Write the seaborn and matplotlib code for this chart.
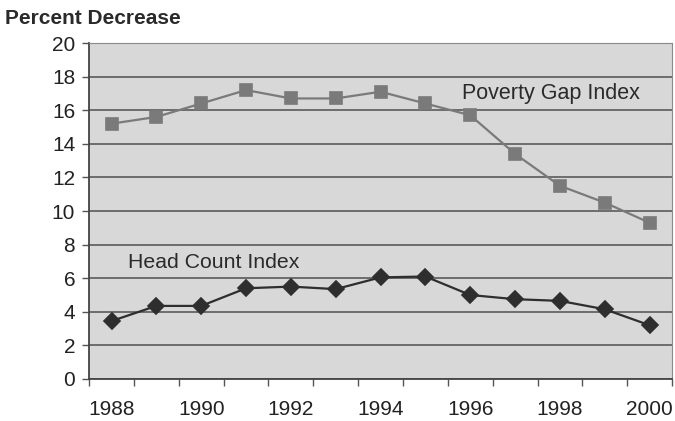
import pandas as pd
import seaborn as sns
import matplotlib.pyplot as plt
from matplotlib.ticker import FixedLocator

# Data
years = [1988, 1989, 1990, 1991, 1992, 1993, 1994, 1995, 1996, 1997, 1998, 1999, 2000]
poverty_gap = [15.2, 15.6, 16.4, 17.2, 16.7, 16.7, 17.1, 16.4, 15.7, 13.4, 11.5, 10.5, 9.3]
head_count = [3.45, 4.35, 4.35, 5.4, 5.5, 5.35, 6.05, 6.1, 5.0, 4.75, 4.65, 4.15, 3.2]
tick_years = ['1988', '1990', '1992', '1994', '1996', '1998', '2000']

df = pd.DataFrame({'Year': [str(y) for y in years],
                   'Poverty Gap Index': poverty_gap,
                   'Head Count Index': head_count})

sns.set_style('white')
plt.rcParams['font.family'] = ['Liberation Sans', 'DejaVu Sans']

fig = plt.figure(figsize=(6.75, 4.21), dpi=100)
ax = fig.add_axes([0.132, 0.0998, 0.8636, 0.798])
ax.set_facecolor('#d8d8d8')

sns.pointplot(data=df, x='Year', y='Poverty Gap Index', errorbar=None, ax=ax,
              color='#7a7a7a', markers='s', markersize=9, linewidth=1.6)
sns.pointplot(data=df, x='Year', y='Head Count Index', errorbar=None, ax=ax,
              color='#2e2e2e', markers='D', markersize=8, linewidth=1.6)

ax.set_xlim(-0.5, len(years) - 0.5)
ax.set_ylim(0, 20)
ax.set_yticks(range(0, 21, 2))
ax.yaxis.grid(True, color='#5a5a5a', linewidth=1.2)
ax.set_axisbelow(True)

ax.set_xticks([years.index(int(t)) for t in tick_years])
ax.set_xticklabels(tick_years)
ax.xaxis.set_minor_locator(FixedLocator([i - 0.5 for i in range(len(years) + 1)]))
ax.tick_params(axis='x', which='major', length=0, pad=15, labelsize=15, colors='#222222')
ax.tick_params(axis='x', which='minor', length=5, width=1, color='#555555', direction='out', bottom=True)
ax.tick_params(axis='y', length=5, width=1, color='#555555', direction='out', left=True,
               labelsize=15, labelcolor='#222222', pad=5)
ax.set_xlabel('')
ax.set_ylabel('')

for side in ['left', 'bottom']:
    ax.spines[side].set_color('#444444')
    ax.spines[side].set_linewidth(1.3)
for side in ['top', 'right']:
    ax.spines[side].set_color('#8a8a8a')
    ax.spines[side].set_linewidth(0.8)

ax.text(7.82, 17.0, 'Poverty Gap Index', fontsize=15.5, color='#2a2a2a', va='center')
ax.text(0.37, 6.96, 'Head Count Index', fontsize=15.3, color='#2a2a2a', va='center')
fig.text(0.008, 0.957, 'Percent Decrease', fontsize=15, fontweight='bold',
         color='#2a2a2a', va='center')

fig.savefig('out.png', dpi=100)
